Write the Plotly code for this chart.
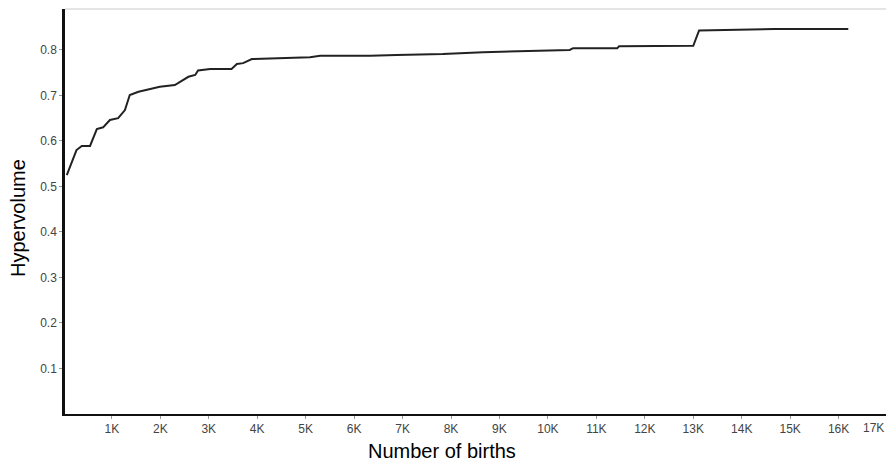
import plotly.graph_objects as go

births = [70, 270, 380, 550, 690, 820, 960, 1130, 1270, 1370, 1550, 1720, 1930, 1990,
          2300, 2470, 2580, 2720, 2780, 3030, 3470, 3580, 3710, 3890, 4400, 5090, 5300,
          6330, 6880, 7830, 8660, 9840, 10450, 10520, 11430, 11470, 12350, 13000, 13120,
          13760, 14680, 16200]
hypervolume = [0.525, 0.580, 0.589, 0.589, 0.626, 0.630, 0.646, 0.650, 0.668, 0.701,
               0.708, 0.712, 0.717, 0.719, 0.723, 0.734, 0.741, 0.745, 0.755, 0.758,
               0.758, 0.769, 0.771, 0.780, 0.781, 0.784, 0.787, 0.787, 0.789, 0.791,
               0.795, 0.798, 0.800, 0.804, 0.804, 0.808, 0.809, 0.809, 0.843, 0.844,
               0.846, 0.846]

x_tick_vals = [1000 * k for k in range(1, 17)]
x_tick_text = [f"{k}K" for k in range(1, 17)]
y_tick_vals = [0.1, 0.2, 0.3, 0.4, 0.5, 0.6, 0.7, 0.8]
y_tick_text = ["0.1", "0.2", "0.3", "0.4", "0.5", "0.6", "0.7", "0.8"]

fig = go.Figure()
fig.add_trace(go.Scatter(x=births, y=hypervolume, mode="lines",
                         line=dict(color="#222222", width=2), showlegend=False,
                         hoverinfo="skip"))

font_family = "Liberation Sans, Arial, sans-serif"
fig.update_layout(
    width=886, height=463,
    margin=dict(l=65, r=0, t=9, b=49),
    paper_bgcolor="white", plot_bgcolor="white",
    font=dict(family=font_family, color="#444444", size=12),
    xaxis=dict(range=[33, 16978], tickvals=x_tick_vals, ticktext=x_tick_text,
               showgrid=False, zeroline=False, showline=True, linecolor="#111111",
               linewidth=2, ticks="outside", ticklen=3, tickcolor="#999999",
               tickfont=dict(size=12, color="#444444")),
    yaxis=dict(range=[0, 0.89], tickvals=y_tick_vals, ticktext=y_tick_text,
               showgrid=False, zeroline=False, showline=True, linecolor="#111111",
               linewidth=2.5, ticks="outside", ticklen=3, tickcolor="#999999",
               tickfont=dict(size=12, color="#444444")),
    shapes=[dict(type="line", xref="paper", yref="paper", x0=0, x1=1, y0=1, y1=1,
                 line=dict(color="#dddddd", width=1.5))],
    annotations=[
        dict(text="17K", xref="paper", yref="paper", x=1.0, y=0, xanchor="right",
             yanchor="top", yshift=-5, showarrow=False,
             font=dict(size=12, color="#444444", family=font_family)),
        dict(text="Number of births", xref="paper", yref="paper", x=(442 - 65) / 821,
             y=0, xanchor="center", yanchor="top", yshift=-24, showarrow=False,
             font=dict(size=20, color="#000000", family=font_family)),
        dict(text="Hypervolume", xref="paper", yref="paper", x=0, xshift=-47,
             y=(414 - 218) / 405, xanchor="center", yanchor="middle", textangle=-90,
             showarrow=False, font=dict(size=20, color="#000000", family=font_family)),
    ],
)

fig.write_html("out.html", config={"displayModeBar": False})

# remove the browser's default page margin so the figure sits at the window origin
with open("out.html", "r", encoding="utf-8") as f:
    html = f.read()
html = html.replace("<head>", "<head><style>html,body{margin:0;padding:0;overflow:hidden;}</style>", 1)
with open("out.html", "w", encoding="utf-8") as f:
    f.write(html)
